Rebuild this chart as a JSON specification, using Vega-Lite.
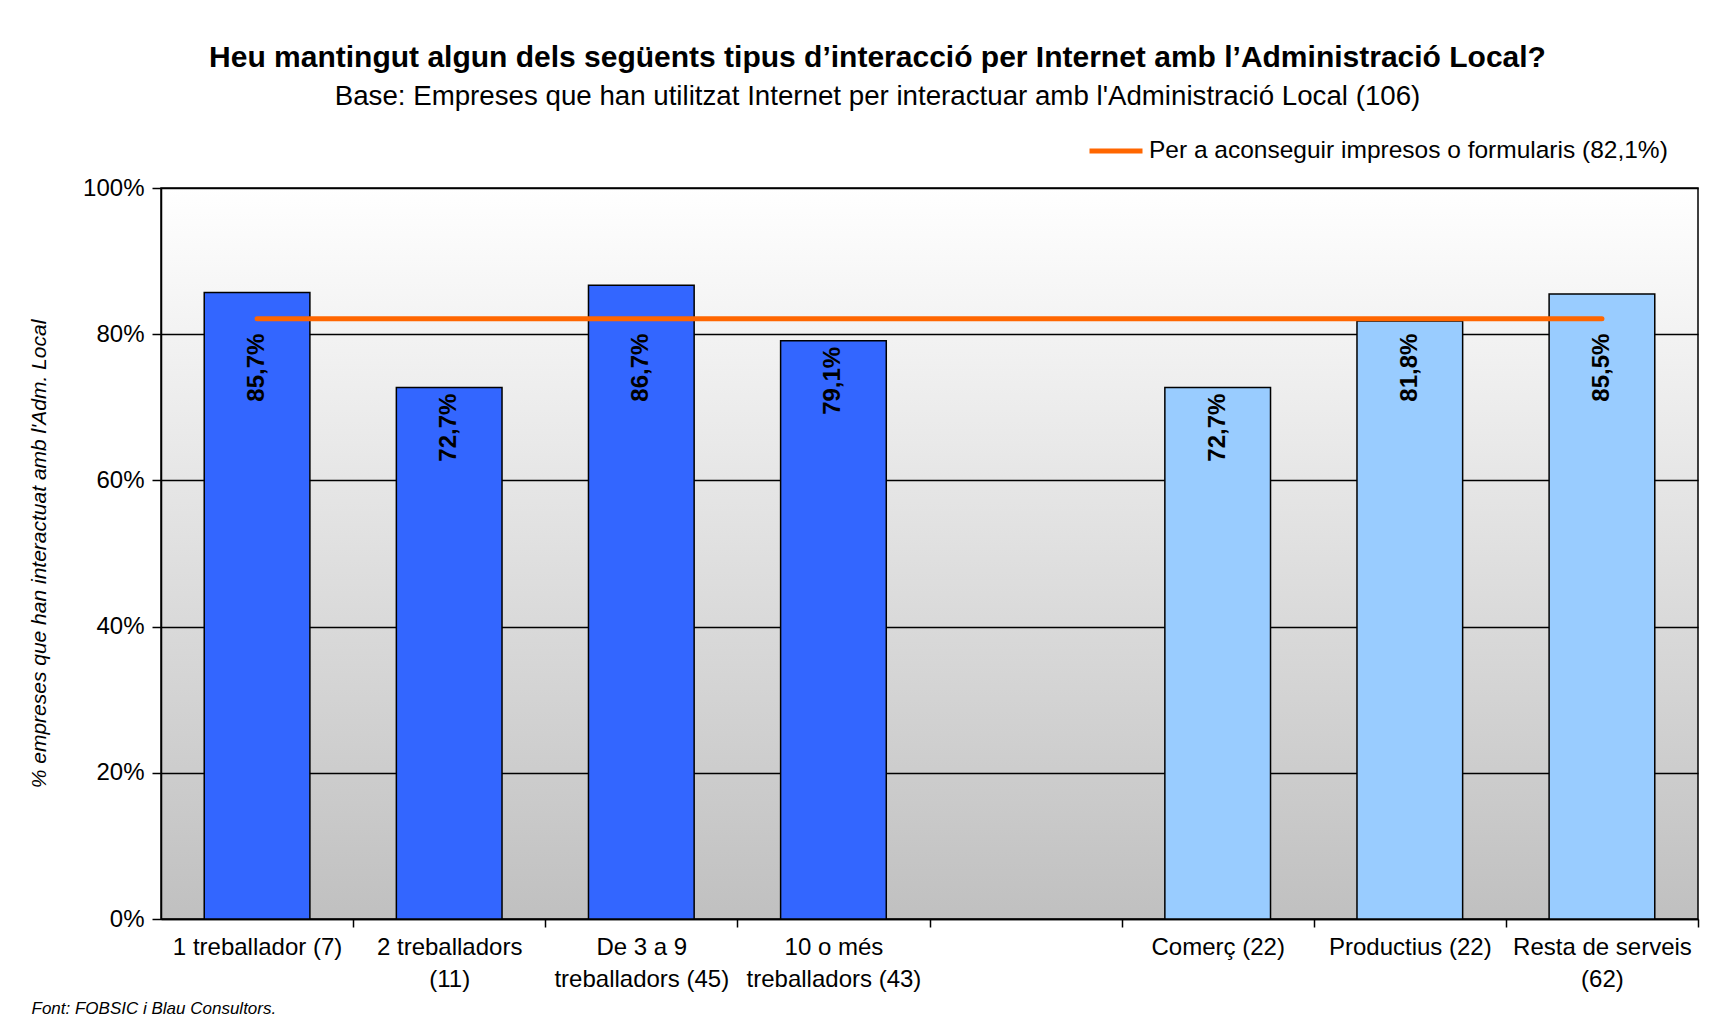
{
  "$schema": "https://vega.github.io/schema/vega-lite/v6.json",
  "autosize": {"type": "none"},
  "width": 1537,
  "height": 731,
  "padding": {"left": 161, "top": 188, "right": 24, "bottom": 106},
  "background": "white",
  "title": {
    "text": "Heu mantingut algun dels següents tipus d’interacció per Internet amb l’Administració Local?",
    "subtitle": "Base: Empreses que han utilitzat Internet per interactuar amb l'Administració Local (106)",
    "anchor": "middle",
    "frame": "group",
    "dx": -52,
    "offset": 11,
    "font": "Liberation Sans",
    "fontSize": 30,
    "fontWeight": "bold",
    "color": "black",
    "subtitleFont": "Liberation Sans",
    "subtitleFontSize": 27.7,
    "subtitleColor": "black",
    "subtitlePadding": 10
  },
  "data": {
    "values": [
      {"categoria": "1 treballador (7)", "grup": "mida", "valor": 85.7, "general": 82.1},
      {"categoria": "2 treballadors (11)", "grup": "mida", "valor": 72.7, "general": 82.1},
      {"categoria": "De 3 a 9 treballadors (45)", "grup": "mida", "valor": 86.7, "general": 82.1},
      {"categoria": "10 o més treballadors (43)", "grup": "mida", "valor": 79.1, "general": 82.1},
      {"categoria": "Comerç (22)", "grup": "sector", "valor": 72.7, "general": 82.1},
      {"categoria": "Productius (22)", "grup": "sector", "valor": 81.8, "general": 82.1},
      {"categoria": "Resta de serveis (62)", "grup": "sector", "valor": 85.5, "general": 82.1}
    ]
  },
  "encoding": {
    "x": {
      "field": "categoria",
      "type": "nominal",
      "sort": null,
      "scale": {
        "domain": ["1 treballador (7)", "2 treballadors (11)", "De 3 a 9 treballadors (45)", "10 o més treballadors (43)", " ", "Comerç (22)", "Productius (22)", "Resta de serveis (62)"],
        "paddingInner": 0.45,
        "paddingOuter": 0.225
      },
      "axis": {
        "title": "Font: FOBSIC i Blau Consultors.",
        "titleX": -130,
        "titleY": 94,
        "titleAlign": "left",
        "titleBaseline": "alphabetic",
        "titleFont": "Liberation Sans",
        "titleFontSize": 17,
        "titleFontStyle": "italic",
        "titleFontWeight": "normal",
        "titleColor": "black",
        "labelAngle": 0,
        "labelFont": "Liberation Sans",
        "labelFontSize": 24,
        "labelColor": "black",
        "labelPadding": 8,
        "labelLineHeight": 32,
        "labelBaseline": "top",
        "labelOffset": -43.23,
        "labelExpr": "{'2 treballadors (11)': ['2 treballadors', '(11)'], 'De 3 a 9 treballadors (45)': ['De 3 a 9', 'treballadors (45)'], '10 o més treballadors (43)': ['10 o més', 'treballadors (43)'], 'Resta de serveis (62)': ['Resta de serveis', '(62)']}[datum.label] || datum.label",
        "bandPosition": 1,
        "tickOffset": 43.23,
        "tickExtra": false,
        "tickSize": 8,
        "tickColor": "black",
        "tickWidth": 1.5,
        "domainColor": "black",
        "domainWidth": 1.5,
        "grid": false
      }
    }
  },
  "layer": [
    {
      "mark": {"type": "bar", "stroke": "black", "strokeWidth": 1.5},
      "encoding": {
        "y": {
          "field": "valor",
          "type": "quantitative",
          "scale": {"domain": [0, 100]},
          "axis": {
            "title": "% empreses que han interactuat amb l'Adm. Local",
            "titleFont": "Liberation Sans",
            "titleFontSize": 21,
            "titleFontStyle": "italic",
            "titleFontWeight": "normal",
            "titleColor": "black",
            "titlePadding": 33,
            "values": [0, 20, 40, 60, 80, 100],
            "labelExpr": "datum.value + '%'",
            "labelFont": "Liberation Sans",
            "labelFontSize": 24,
            "labelColor": "black",
            "labelPadding": 8,
            "tickSize": 9,
            "tickColor": "black",
            "tickWidth": 1.5,
            "domainColor": "black",
            "domainWidth": 1.5,
            "grid": true,
            "gridColor": "black",
            "gridWidth": 1.5
          }
        },
        "fill": {
          "field": "grup",
          "type": "nominal",
          "scale": {"domain": ["mida", "sector"], "range": ["#3366FF", "#99CCFF"]},
          "legend": null
        }
      }
    },
    {
      "mark": {"type": "line", "strokeWidth": 5, "strokeCap": "round"},
      "encoding": {
        "y": {"field": "general", "type": "quantitative"},
        "stroke": {
          "datum": "Per a aconseguir impresos o formularis (82,1%)",
          "type": "nominal",
          "scale": {"range": ["#FF6600"]},
          "legend": {
            "title": null,
            "orient": "none",
            "legendX": 926,
            "legendY": -66,
            "symbolType": "stroke",
            "symbolSize": 2809,
            "symbolStrokeWidth": 5,
            "labelFont": "Liberation Sans",
            "labelFontSize": 24.5,
            "labelColor": "black",
            "labelOffset": 4,
            "labelLimit": 800
          }
        }
      }
    },
    {
      "transform": [
        {"calculate": "replace(format(datum.valor, '.1f'), '.', ',') + '%'", "as": "etiqueta"},
        {"calculate": "min(datum.valor, 80.9)", "as": "posicio"}
      ],
      "mark": {
        "type": "text",
        "angle": 270,
        "align": "right",
        "baseline": "middle",
        "dx": -6,
        "font": "Liberation Sans",
        "fontSize": 24,
        "fontWeight": "bold",
        "color": "black"
      },
      "encoding": {
        "y": {"field": "posicio", "type": "quantitative"},
        "text": {"field": "etiqueta", "type": "nominal"}
      }
    }
  ],
  "config": {
    "view": {
      "stroke": "black",
      "strokeWidth": 1.5,
      "fill": {
        "gradient": "linear",
        "x1": 0, "y1": 0, "x2": 0, "y2": 1,
        "stops": [
          {"offset": 0, "color": "#FFFFFF"},
          {"offset": 1, "color": "#C0C0C0"}
        ]
      }
    }
  }
}
